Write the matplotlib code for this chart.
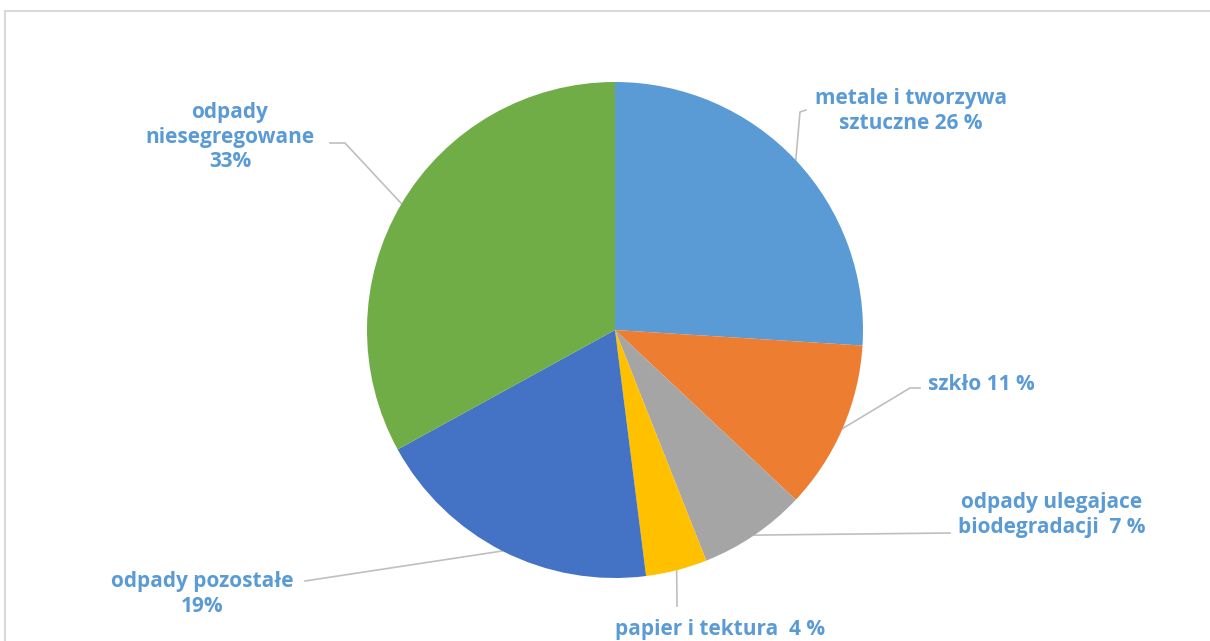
import numpy as np
import matplotlib.pyplot as plt

# share of each waste fraction, clockwise from 12 o'clock
categories = ["metale i tworzywa\nsztuczne 26 %", "szkło 11 %", "odpady ulegajace\nbiodegradacji  7 %",
              "papier i tektura  4 %", "odpady pozostałe\n19%", "odpady\nniesegregowane\n33%"]
values = [26, 11, 7, 4, 19, 33]
colors = ["#5B9BD5", "#ED7D31", "#A5A5A5", "#FFC000", "#4472C4", "#70AD47"]

W, H = 1210, 641
fig = plt.figure(figsize=(W / 100, H / 100), dpi=100)
ax = fig.add_axes([0, 0, 1, 1])
ax.axis("off")

cx, cy, r = 615, H - 330, 248
ax.pie(values, colors=colors, startangle=90, counterclock=False,
       center=(cx, cy), radius=r, wedgeprops=dict(linewidth=0))
ax.set_xlim(0, W)
ax.set_ylim(0, H)
ax.set_aspect("equal")

# mid-angle point of every wedge on the rim
total = sum(values)
cum = np.cumsum(values) - np.array(values) / 2
ang = np.deg2rad(90 - cum / total * 360)
rim = [(cx + r * np.cos(a), cy + r * np.sin(a)) for a in ang]

txt_color = "#5B9BD5"
line_color = "#BFBFBF"
font = dict(fontsize=15, fontweight="bold", color=txt_color, family=["Open Sans", "DejaVu Sans"],
            linespacing=1.2)

def Y(y):
    return H - y

# text position (image coords), alignment, leader polyline (image coords) ending on rim
labels = [
    ((911, 111), "center", [(806, 110), (800, 112)]),
    ((928, 384), "left", [(920, 388), (910, 388)]),
    ((1052, 515), "center", [(950, 533)]),
    ((720, 629), "center", [(677, 606)]),
    ((202, 594), "center", [(305, 581)]),
    ((230, 137), "center", [(330, 143), (345, 143)]),
]

for i, (pos, ha, pts) in enumerate(labels):
    ax.text(pos[0], Y(pos[1]), categories[i], ha=ha, va="center", multialignment="center", **font)
    xs = [p[0] for p in pts] + [rim[i][0]]
    ys = [Y(p[1]) for p in pts] + [rim[i][1]]
    ax.plot(xs, ys, color=line_color, lw=1.2, zorder=0)

# chart area border (top and left only visible)
ax.plot([5, W], [Y(11), Y(11)], color="#D9D9D9", lw=1.5)
ax.plot([5, 5], [Y(11), 0], color="#D9D9D9", lw=1.5)

fig.savefig("out.png", dpi=100, facecolor="white")
